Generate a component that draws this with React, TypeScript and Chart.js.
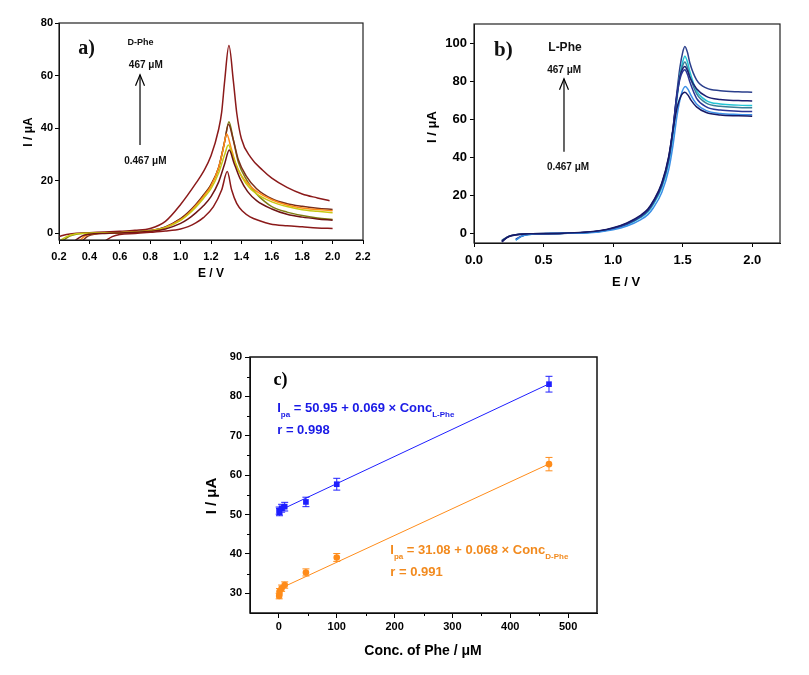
import React, { useEffect, useRef } from "react";
import { Chart, registerables } from "chart.js";

Chart.register(...registerables);

type P = [number, number];
const SANS = '"Liberation Sans", Arial, Helvetica, sans-serif';
const SERIF = '"Liberation Serif", "Times New Roman", serif';

// ---------- a) D-Phe voltammograms  [E / V, I / µA]
const dPheTop: P[] = [[0.2,-1.2],[0.25,-0.4],[0.3,0],[0.4,0.3],[0.5,0.5],[0.6,0.8],[0.7,1.2],[0.8,1.9],[0.9,4.6],[1.0,11],[1.1,19],[1.15,23.5],[1.2,29.5],[1.25,39.5],[1.27,46],[1.29,58],[1.318,71.4],[1.347,58],[1.37,45.5],[1.4,36],[1.46,29],[1.54,24],[1.6,21],[1.7,17.5],[1.8,15],[1.9,13.5],[1.98,12.4]];
const dPheOlive: P[] = [[0.22,-3],[0.27,-1],[0.32,-0.2],[0.4,0.1],[0.6,0.3],[0.7,0.6],[0.8,1.1],[0.9,2.4],[1.0,5.5],[1.05,7.8],[1.1,10.8],[1.15,14.5],[1.2,18.5],[1.25,25],[1.29,35],[1.318,42.5],[1.347,35.5],[1.38,27],[1.435,20.3],[1.5,15],[1.55,12.3],[1.6,10.2],[1.7,8.1],[1.8,6.8],[1.9,5.9],[2.0,5.3]];
const dPheBrown: P[] = [[0.35,-3],[0.39,-1],[0.44,-0.2],[0.5,0.1],[0.6,0.3],[0.7,0.6],[0.8,1.1],[0.9,2.5],[1.0,5.6],[1.05,8],[1.1,11],[1.15,14.5],[1.2,18.5],[1.25,25],[1.29,35],[1.315,41.5],[1.345,36],[1.38,28],[1.43,22],[1.5,17],[1.6,13.2],[1.7,11.3],[1.8,10.3],[1.9,9.6],[2.0,9.1]];
const dPheOrange: P[] = [[0.33,-3],[0.37,-1],[0.42,-0.2],[0.5,0.1],[0.6,0.3],[0.7,0.5],[0.8,1],[0.9,2.3],[1.0,5.2],[1.05,7.5],[1.1,10.5],[1.15,14],[1.2,18],[1.25,25],[1.28,32],[1.303,37.8],[1.33,33],[1.36,27],[1.4,22],[1.45,18.5],[1.5,16],[1.6,12.8],[1.7,10.8],[1.8,9.7],[1.9,9.1],[2.0,8.6]];
const dPheYellow: P[] = [[0.2,-3],[0.25,-1.2],[0.3,-0.3],[0.4,0.1],[0.6,0.3],[0.7,0.5],[0.8,1],[0.9,2.2],[1.0,5],[1.05,7.2],[1.1,10],[1.15,13.3],[1.2,17],[1.25,23],[1.29,30],[1.314,33.6],[1.34,30],[1.38,24],[1.43,19],[1.5,15],[1.6,12],[1.7,10.2],[1.8,9],[1.9,8.4],[2.0,7.9]];
const dPheRed2: P[] = [[0.3,-3],[0.35,-1],[0.4,-0.3],[0.5,0],[0.6,0.2],[0.7,0.4],[0.8,0.8],[0.9,1.7],[1.0,3.8],[1.05,5.5],[1.1,7.8],[1.15,10.5],[1.2,14],[1.25,19.5],[1.29,26.5],[1.32,31.7],[1.35,27],[1.39,21],[1.44,16],[1.5,12.5],[1.6,9.3],[1.7,7.3],[1.8,6.2],[1.9,5.5],[2.0,5.0]];
const dPheLow: P[] = [[0.5,-3],[0.55,-1.2],[0.6,-0.4],[0.7,0],[0.8,0.4],[0.9,0.9],[1.0,1.7],[1.05,2.6],[1.1,4],[1.15,6],[1.215,10.1],[1.27,16.5],[1.307,23.5],[1.336,16.5],[1.369,11.4],[1.41,8.3],[1.457,6.3],[1.52,4.8],[1.59,3.6],[1.7,2.9],[1.8,2.5],[1.9,2.1],[2.0,1.9]];
const dPheCurves = [dPheLow, dPheRed2, dPheYellow, dPheOrange, dPheBrown, dPheOlive, dPheTop];
const dPheColors = ["#8b1a1a", "#6e1414", "#c8c814", "#ff8c1a", "#7a2e1a", "#7d7d12", "#8b1a1a"];

// ---------- b) L-Phe voltammograms
const lPhe1: P[] = [[0.2,-4],[0.24,-1.8],[0.3,-0.7],[0.4,-0.2],[0.6,0],[0.8,0.5],[0.9,1.2],[1.0,2.6],[1.1,5],[1.2,9],[1.25,12],[1.29,16.3],[1.35,25.5],[1.4,39],[1.43,54],[1.457,73],[1.48,87],[1.5,95],[1.516,98.2],[1.535,95],[1.552,89.5],[1.6,80.7],[1.672,76.3],[1.77,75],[1.9,74.4],[2.0,74.2]];
const lPhe2: P[] = [[0.3,-3.5],[0.34,-1.5],[0.4,-0.5],[0.5,-0.1],[0.6,0],[0.8,0.4],[0.9,1],[1.0,2.3],[1.1,4.6],[1.2,8.4],[1.25,11.3],[1.29,15.3],[1.35,24],[1.4,37],[1.43,51],[1.457,69],[1.48,83],[1.5,90],[1.516,93],[1.535,90],[1.552,85],[1.6,75],[1.67,69.8],[1.77,68],[1.9,67.4],[2.0,67.2]];
const lPhe3: P[] = [[0.2,-3.5],[0.25,-1.5],[0.3,-0.6],[0.4,-0.2],[0.6,0],[0.8,0.5],[0.9,1.1],[1.0,2.5],[1.1,4.9],[1.2,8.8],[1.25,11.8],[1.29,16],[1.35,25],[1.4,38.5],[1.43,53],[1.457,71],[1.48,83],[1.5,88],[1.516,90],[1.535,87],[1.552,82.5],[1.6,73.5],[1.67,68.5],[1.77,66.8],[1.9,66.2],[2.0,66]];
const lPhe4: P[] = [[0.2,-4.5],[0.24,-2],[0.3,-0.8],[0.4,-0.2],[0.6,0],[0.8,0.6],[0.9,1.3],[1.0,2.8],[1.1,5.3],[1.2,9.3],[1.25,12.4],[1.29,16.8],[1.35,26],[1.4,40],[1.43,55],[1.457,72],[1.48,82],[1.5,86.5],[1.516,87.7],[1.535,85.5],[1.552,82],[1.6,76],[1.67,72],[1.77,70.3],[1.9,69.8],[2.0,69.6]];
const lPhe5: P[] = [[0.3,-3],[0.35,-1.2],[0.4,-0.4],[0.5,-0.1],[0.6,0],[0.8,0.5],[0.9,1.2],[1.0,2.6],[1.1,5],[1.2,9],[1.25,12],[1.29,16.3],[1.35,25.3],[1.4,39],[1.43,54],[1.457,71],[1.48,81],[1.5,85],[1.516,86],[1.535,83.5],[1.552,79.5],[1.6,71],[1.67,66.5],[1.77,64.8],[1.9,64.2],[2.0,64]];
const lPhe6: P[] = [[0.3,-3.5],[0.34,-1.5],[0.4,-0.5],[0.5,-0.1],[0.6,0],[0.8,0.3],[0.9,0.8],[1.0,1.9],[1.1,3.9],[1.2,7.3],[1.25,9.9],[1.29,13.5],[1.35,21.5],[1.4,33.5],[1.43,46],[1.46,62],[1.49,73],[1.52,77.2],[1.54,75.5],[1.56,72.5],[1.6,68],[1.67,64.5],[1.77,63],[1.9,62.5],[2.0,62.3]];
const lPhe7: P[] = [[0.2,-4],[0.25,-1.6],[0.3,-0.6],[0.4,-0.2],[0.6,0],[0.8,0.6],[0.9,1.4],[1.0,3],[1.1,5.6],[1.2,9.7],[1.25,12.8],[1.29,17.2],[1.35,26.5],[1.4,40.5],[1.43,54],[1.46,66],[1.49,72.5],[1.516,74.2],[1.54,72.5],[1.56,70],[1.6,66.5],[1.67,63.5],[1.77,62.2],[1.9,61.8],[2.0,61.6]];
const lPheCurves = [lPhe7, lPhe6, lPhe5, lPhe4, lPhe3, lPhe2, lPhe1];
const lPheColors = ["#161a66", "#3b8fe6", "#2a3595", "#1c1f70", "#3a7f9a", "#25c4d4", "#2b3f8c"];

// ---------- c) calibration
const concL = [0.467, 1, 4.67, 10, 46.7, 100, 467];
const ipaL = [51.0, 50.6, 51.6, 52.0, 53.2, 57.7, 83.1];
const errL = [0.9, 0.9, 1.0, 1.1, 1.2, 1.5, 2.0];
const concD = [0.467, 1, 4.67, 10, 46.7, 100, 467];
const ipaD = [29.3, 30.4, 31.3, 32.1, 35.3, 39.1, 62.8];
const errD = [0.7, 0.8, 0.8, 0.8, 0.9, 1.0, 1.7];
const fitX = [0.467, 467];
const fitLy = [50.98, 83.17];
const fitDy = [31.11, 62.84];
const cXTicks = [0, 100, 200, 300, 400, 500];
const cXMinor = [50, 150, 250, 350, 450];
const cYMinor = [35, 45, 55, 65, 75, 85];

const toXY = (pts: P[]) => pts.map(([x, y]) => ({ x, y }));
const zipXY = (xs: number[], ys: number[]) => xs.map((x, i) => ({ x, y: ys[i] }));

function drawRich(ctx: any, segs: any[], x: number, y: number, o: any) {
  const w = o.weight || "bold";
  const fam = o.family || SANS;
  const main = `${w} ${o.size}px ${fam}`;
  const sub = `${w} ${o.subSize || o.size * 0.6}px ${fam}`;
  let total = 0;
  const widths = segs.map((s) => {
    ctx.font = s.sub ? sub : main;
    const m = ctx.measureText(s.t).width;
    total += m;
    return m;
  });
  let cx = o.align === "center" ? x - total / 2 : x;
  ctx.fillStyle = o.color || "#000";
  ctx.textBaseline = "middle";
  ctx.textAlign = "left";
  segs.forEach((s, i) => {
    ctx.font = s.sub ? sub : main;
    ctx.fillText(s.t, cx, y + (s.sub ? o.size * 0.5 : 0));
    cx += widths[i];
  });
}

const framePlugin = {
  id: "frame",
  afterDraw(chart: any, _a: any, opts: any) {
    const { ctx, chartArea: a } = chart;
    ctx.save();
    ctx.strokeStyle = opts.color || "#000";
    ctx.lineWidth = opts.width || 1;
    ctx.strokeRect(a.left, a.top, a.right - a.left, a.bottom - a.top);
    ctx.restore();
  },
};

const annotPlugin = {
  id: "annot",
  afterDatasetsDraw(chart: any, _a: any, opts: any) {
    const { ctx, scales } = chart;
    const xs = scales.x, ys = scales.y;
    ctx.save();
    for (const ar of opts.arrows || []) {
      const x = xs.getPixelForValue(ar.x);
      const y1 = ys.getPixelForValue(ar.y1);
      const y2 = ys.getPixelForValue(ar.y2);
      ctx.strokeStyle = "#000";
      ctx.lineWidth = 1.2;
      ctx.beginPath();
      ctx.moveTo(x, y1);
      ctx.lineTo(x, y2);
      ctx.stroke();
      ctx.beginPath();
      ctx.moveTo(x - 4.5, y2 + 11);
      ctx.lineTo(x, y2);
      ctx.lineTo(x + 4.5, y2 + 11);
      ctx.stroke();
    }
    for (const t of opts.texts || []) {
      drawRich(ctx, t.segs, xs.getPixelForValue(t.x), ys.getPixelForValue(t.y), t);
    }
    for (const eb of opts.errorBars || []) {
      ctx.strokeStyle = eb.color;
      ctx.lineWidth = 1;
      eb.x.forEach((xv: number, i: number) => {
        const px = xs.getPixelForValue(xv);
        const top = ys.getPixelForValue(eb.y[i] + eb.err[i]);
        const bot = ys.getPixelForValue(eb.y[i] - eb.err[i]);
        ctx.beginPath();
        ctx.moveTo(px, top); ctx.lineTo(px, bot);
        ctx.moveTo(px - 3.5, top); ctx.lineTo(px + 3.5, top);
        ctx.moveTo(px - 3.5, bot); ctx.lineTo(px + 3.5, bot);
        ctx.stroke();
      });
    }
    if (opts.minor) {
      const a = chart.chartArea;
      ctx.strokeStyle = "#000";
      ctx.lineWidth = 1;
      ctx.beginPath();
      for (const v of opts.minor.x) {
        const px = Math.round(xs.getPixelForValue(v)) + 0.5;
        ctx.moveTo(px, a.bottom); ctx.lineTo(px, a.bottom + opts.minor.len);
      }
      for (const v of opts.minor.y) {
        const py = Math.round(ys.getPixelForValue(v)) + 0.5;
        ctx.moveTo(a.left, py); ctx.lineTo(a.left - opts.minor.len, py);
      }
      ctx.stroke();
    }
    ctx.restore();
  },
};

const titlesPlugin = {
  id: "axisTitles",
  afterDraw(chart: any, _a: any, opts: any) {
    const { ctx } = chart;
    for (const t of opts.items || []) {
      ctx.save();
      ctx.translate(t.x, t.y);
      if (t.rot) ctx.rotate(-Math.PI / 2);
      ctx.font = `bold ${t.size}px ${SANS}`;
      ctx.fillStyle = "#000";
      ctx.textAlign = "center";
      ctx.textBaseline = "middle";
      ctx.fillText(t.text, 0, 0);
      ctx.restore();
    }
  },
};

function axis(o: any) {
  return {
    type: "linear",
    min: o.min,
    max: o.max,
    afterFit: (s: any) => {
      if (o.horizontal) s.height = o.box; else s.width = o.box;
    },
    afterBuildTicks: o.ticksList
      ? (s: any) => { s.ticks = o.ticksList.map((v: number) => ({ value: v })); }
      : undefined,
    ticks: {
      stepSize: o.step,
      includeBounds: false,
      autoSkip: false,
      maxRotation: 0,
      color: "#000",
      padding: o.pad,
      font: { family: SANS, size: o.font, weight: "bold" },
      callback: o.fmt ? (v: any) => Number(v).toFixed(o.fmt) : (v: any) => String(v),
    },
    grid: {
      display: true,
      drawOnChartArea: false,
      drawTicks: true,
      tickLength: o.tl,
      color: "#000",
      tickColor: "#000",
    },
    border: { display: true, color: "#000", width: 1 },
  };
}

function cvDatasets(curves: P[][], colors: string[]) {
  return curves.map((c, i) => ({
    data: toXY(c),
    borderColor: colors[i],
    borderWidth: 1.5,
    pointRadius: 0,
    fill: false,
    cubicInterpolationMode: "monotone",
  }));
}

const baseOpts = {
  animation: false,
  responsive: false,
  maintainAspectRatio: false,
  events: [],
};

export default function App() {
  const refA = useRef<HTMLCanvasElement>(null);
  const refB = useRef<HTMLCanvasElement>(null);
  const refC = useRef<HTMLCanvasElement>(null);

  useEffect(() => {
    const charts: any[] = [];
    const lbl = (t: string, size: number, weight = "bold") => ({ segs: [{ t }], size, weight, align: "center", color: "#111" });

    charts.push(new Chart(refA.current as any, {
      type: "line",
      data: { datasets: cvDatasets(dPheCurves, dPheColors) as any },
      plugins: [framePlugin, annotPlugin, titlesPlugin],
      options: {
        ...baseOpts,
        layout: { padding: { left: 0, top: 23, right: 37, bottom: 0 } },
        scales: {
          x: axis({ min: 0.2, max: 2.2, step: 0.2, horizontal: true, box: 50, pad: 6, tl: 4, font: 11, fmt: 1 }),
          y: axis({ min: -2.5, max: 80, step: 20, box: 59, pad: 2, tl: 4, font: 11 }),
        },
        plugins: {
          legend: { display: false },
          tooltip: { enabled: false },
          frame: { color: "#222", width: 1.2 },
          annot: {
            arrows: [{ x: 0.733, y1: 33.6, y2: 60.3 }],
            texts: [
              { ...lbl("a)", 20), family: SERIF, x: 0.382, y: 70.1 },
              { ...lbl("D-Phe", 9), x: 0.736, y: 72.6 },
              { ...lbl("467 μM", 10), x: 0.771, y: 63.8 },
              { ...lbl("0.467 μM", 10), x: 0.768, y: 27.5 },
            ],
          },
          axisTitles: {
            items: [
              { text: "E / V", x: 211, y: 274, size: 12 },
              { text: "I / μA", x: 29, y: 132, size: 12, rot: true },
            ],
          },
        },
      } as any,
    }));

    charts.push(new Chart(refB.current as any, {
      type: "line",
      data: { datasets: cvDatasets(lPheCurves, lPheColors) as any },
      plugins: [framePlugin, annotPlugin, titlesPlugin],
      options: {
        ...baseOpts,
        layout: { padding: { left: 0, top: 24, right: 29, bottom: 0 } },
        scales: {
          x: axis({ min: 0, max: 2.2, step: 0.5, horizontal: true, box: 47, pad: 6, tl: 4, font: 13, fmt: 1 }),
          y: axis({ min: -5, max: 110, step: 20, box: 74, pad: 3, tl: 4, font: 13 }),
        },
        plugins: {
          legend: { display: false },
          tooltip: { enabled: false },
          frame: { color: "#222", width: 1.2 },
          annot: {
            arrows: [{ x: 0.647, y1: 42.9, y2: 81.2 }],
            texts: [
              { ...lbl("b)", 21), family: SERIF, x: 0.211, y: 96.0 },
              { ...lbl("L-Phe", 12), x: 0.654, y: 97.4 },
              { ...lbl("467 μM", 10), x: 0.648, y: 85.6 },
              { ...lbl("0.467 μM", 10), x: 0.676, y: 35.0 },
            ],
          },
          axisTitles: {
            items: [
              { text: "E / V", x: 226, y: 282, size: 13 },
              { text: "I / μA", x: 32, y: 127, size: 13, rot: true },
            ],
          },
        },
      } as any,
    }));

    const blue = "#1f1fff";
    const blueTxt = "#1a1ae6";
    const orange = "#ff8c1a";
    const orangeTxt = "#f28a1e";
    charts.push(new Chart(refC.current as any, {
      type: "line",
      data: {
        datasets: [
          { data: zipXY(concL, ipaL), showLine: false, pointStyle: "rect", pointRadius: 4, backgroundColor: blue, borderColor: blue, borderWidth: 0 },
          { data: zipXY(concD, ipaD), showLine: false, pointStyle: "circle", pointRadius: 3.3, backgroundColor: orange, borderColor: orange, borderWidth: 0 },
          { data: zipXY(fitX, fitLy), borderColor: blue, borderWidth: 1, pointRadius: 0, fill: false },
          { data: zipXY(fitX, fitDy), borderColor: orange, borderWidth: 1, pointRadius: 0, fill: false },
        ] as any,
      },
      plugins: [framePlugin, annotPlugin, titlesPlugin],
      options: {
        ...baseOpts,
        layout: { padding: { left: 0, top: 27, right: 23, bottom: 0 } },
        scales: {
          x: axis({ min: -50, max: 550, horizontal: true, box: 62, pad: 2, tl: 5, font: 11, ticksList: cXTicks }),
          y: axis({ min: 25, max: 90, step: 10, box: 60, pad: 3, tl: 5, font: 11 }),
        },
        plugins: {
          legend: { display: false },
          tooltip: { enabled: false },
          frame: { color: "#111", width: 1.5 },
          annot: {
            minor: { x: cXMinor, y: cYMinor, len: 3 },
            errorBars: [
              { x: concL, y: ipaL, err: errL, color: blue },
              { x: concD, y: ipaD, err: errD, color: orange },
            ],
            texts: [
              { segs: [{ t: "c)" }], size: 18, family: SERIF, align: "center", color: "#000", x: 2.8, y: 84.1 },
              { segs: [{ t: "I" }, { t: "pa", sub: true }, { t: " = 50.95 + 0.069 × Conc" }, { t: "L-Phe", sub: true }], size: 13, subSize: 8, color: blueTxt, x: -2.9, y: 76.9 },
              { segs: [{ t: "r = 0.998" }], size: 13, color: blueTxt, x: -2.9, y: 71.4 },
              { segs: [{ t: "I" }, { t: "pa", sub: true }, { t: " = 31.08 + 0.068 × Conc" }, { t: "D-Phe", sub: true }], size: 13, subSize: 8, color: orangeTxt, x: 192.6, y: 41.0 },
              { segs: [{ t: "r = 0.991" }], size: 13, color: orangeTxt, x: 192.6, y: 35.3 },
            ],
          },
          axisTitles: {
            items: [
              { text: "Conc. of Phe / μM", x: 233, y: 321, size: 14 },
              { text: "I / μA", x: 22, y: 166, size: 15, rot: true },
            ],
          },
        },
      } as any,
    }));

    return () => charts.forEach((c) => c.destroy());
  }, []);

  const cv = (left: number, top: number, w: number, h: number) => ({
    position: "absolute" as const, left, top, width: w, height: h,
  });

  return (
    <div style={{ position: "absolute", left: 0, top: 0, width: 809, height: 675, background: "#fff", overflow: "hidden" }}>
      <canvas ref={refA} width={400} height={290} style={cv(0, 0, 400, 290)} />
      <canvas ref={refB} width={409} height={290} style={cv(400, 0, 409, 290)} />
      <canvas ref={refC} width={430} height={345} style={cv(190, 330, 430, 345)} />
    </div>
  );
}
